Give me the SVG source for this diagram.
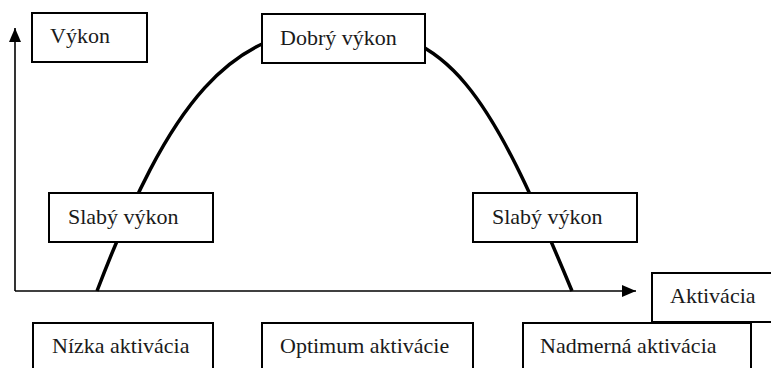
<svg xmlns="http://www.w3.org/2000/svg" width="771" height="368" viewBox="0 0 771 368">
<style>
.box{fill:#fff;stroke:#000;stroke-width:2}
.lbl{font-size:22px;fill:#1a1a1a}
.axis{stroke:#000;stroke-width:1.6;fill:none}
.curve{stroke:#000;stroke-width:3.5;fill:none}
</style>
<defs>
<marker id="ah" viewBox="0 0 14 12" refX="14" refY="6" markerWidth="14" markerHeight="12" markerUnits="userSpaceOnUse" orient="auto">
<path d="M0,0 L14,6 L0,12 Z" fill="#000"/>
</marker>
</defs>
<rect width="771" height="368" fill="#fff"/>
<g id="connectors">
<path class="curve" d="M97,291 C170,100 230,28 340,28 C450,28 489,91 572,291"/>
<path class="axis" d="M15,291 L15,28" marker-end="url(#ah)"/>
<path class="axis" d="M15,291 L636,291" marker-end="url(#ah)"/>
</g>
<g font-family="Times New Roman, Liberation Serif, DejaVu Serif, serif">
<g id="vykon"><rect class="box" x="32" y="13" width="115" height="49"/><text class="lbl" x="50" y="43">Výkon</text></g>
<g id="dobry"><rect class="box" x="262" y="14" width="163" height="49"/><text class="lbl" x="280" y="45">Dobrý výkon</text></g>
<g id="slaby1"><rect class="box" x="49" y="193" width="164" height="49"/><text class="lbl" x="68" y="224">Slabý výkon</text></g>
<g id="slaby2"><rect class="box" x="473" y="193" width="164" height="49"/><text class="lbl" x="492" y="224">Slabý výkon</text></g>
<g id="aktivacia"><rect class="box" x="652" y="273" width="130" height="49"/><text class="lbl" x="670" y="303">Aktivácia</text></g>
<g id="nizka"><rect class="box" x="33" y="323" width="180" height="60"/><text class="lbl" x="52" y="353">Nízka aktivácia</text></g>
<g id="optimum"><rect class="box" x="262" y="323" width="211" height="60"/><text class="lbl" x="280" y="353">Optimum aktivácie</text></g>
<g id="nadmerna"><rect class="box" x="523" y="323" width="228" height="60"/><text class="lbl" x="540" y="353">Nadmerná aktivácia</text></g>
</g>
</svg>
